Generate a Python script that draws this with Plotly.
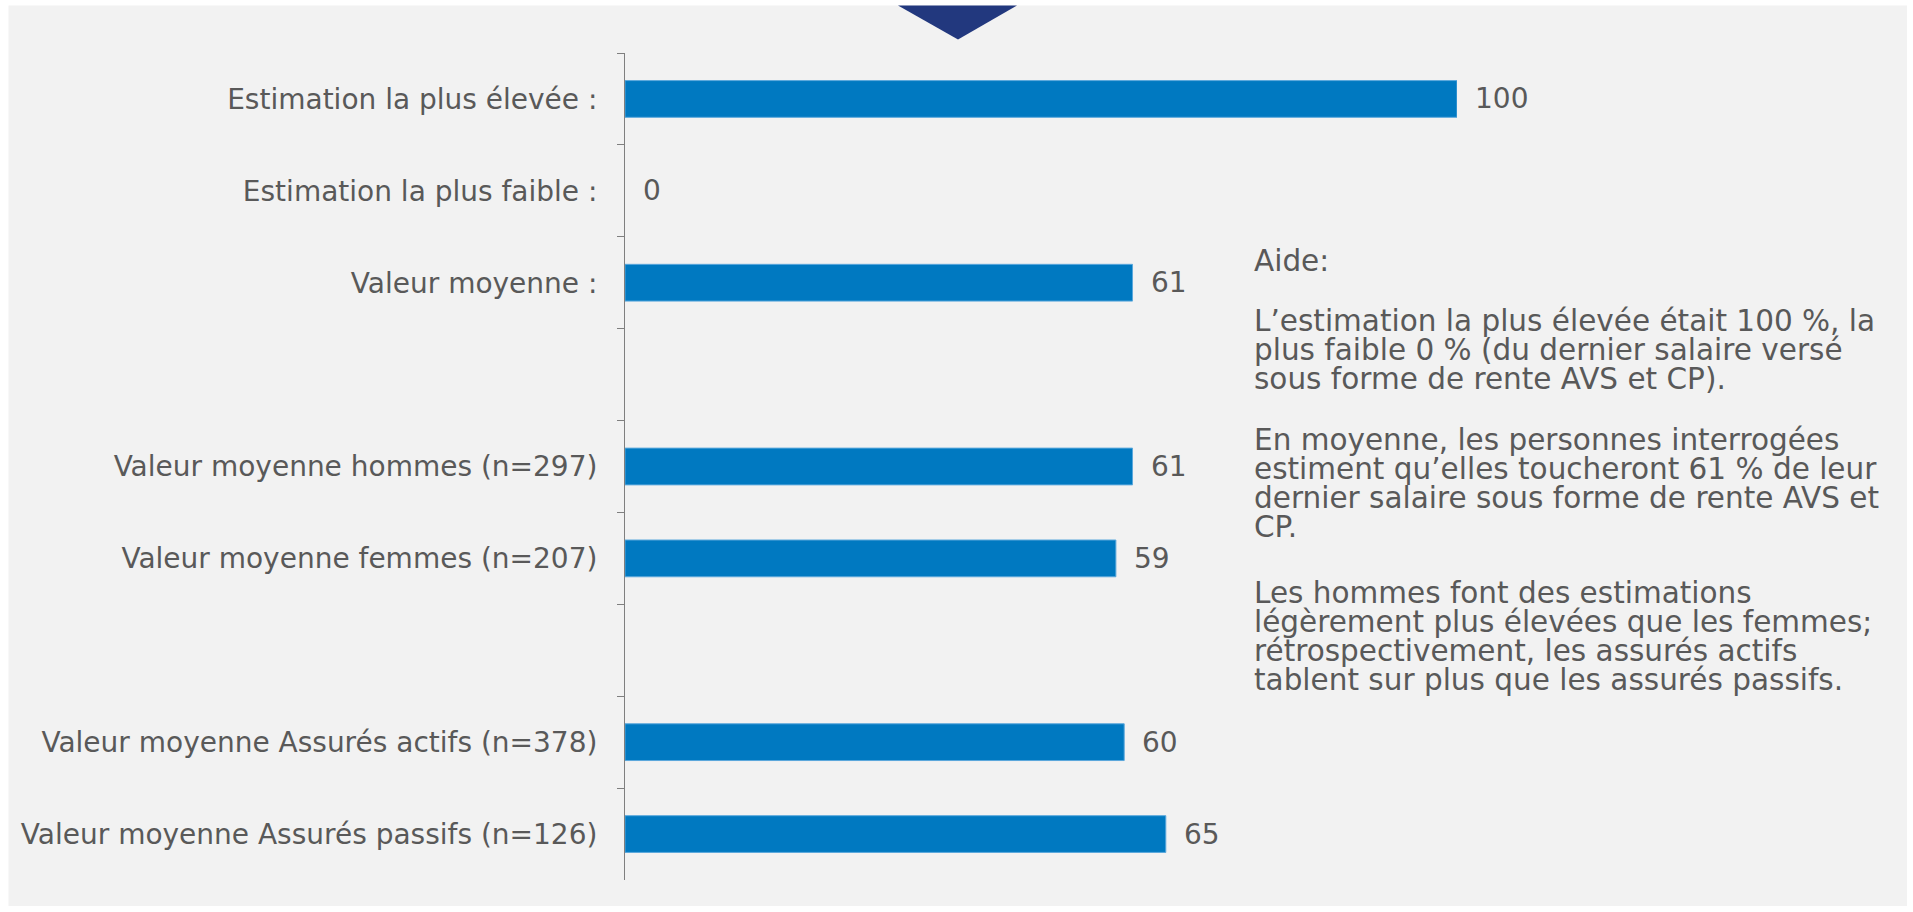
import plotly.graph_objects as go

# ---- data ----
categories = [
    "Estimation la plus élevée :",
    "Estimation la plus faible :",
    "Valeur moyenne :",
    " ",
    "Valeur moyenne hommes (n=297)",
    "Valeur moyenne femmes (n=207)",
    "  ",
    "Valeur moyenne Assurés actifs (n=378)",
    "Valeur moyenne Assurés passifs (n=126)",
]
values = [100, 0, 61, None, 61, 59, None, 60, 65]

aide_title = "Aide:"
aide_para1 = [
    "L’estimation la plus élevée était 100 %, la",
    "plus faible 0 % (du dernier salaire versé",
    "sous forme de rente AVS et CP).",
]
aide_para2 = [
    "En moyenne, les personnes interrogées",
    "estiment qu’elles toucheront 61 % de leur",
    "dernier salaire sous forme de rente AVS et",
    "CP.",
]
aide_para3 = [
    "Les hommes font des estimations",
    "légèrement plus élevées que les femmes;",
    "rétrospectivement, les assurés actifs",
    "tablent sur plus que les assurés passifs.",
]

# ---- layout geometry (pixels) ----
W_PX, H_PX = 1913, 912
L, R_EDGE = 625, 1457
T, B_EDGE = 52.5, 880
FONT = "Verdana, DejaVu Sans, sans-serif"
FS = 28
FS_TXT = 29.5
GREY = "#595959"
BLUE = "#0079C1"

def px_x(px):
    return (px - L) / (R_EDGE - L)

def px_y(py):
    return (B_EDGE - py) / (B_EDGE - T)

fig = go.Figure()
fig.add_trace(go.Bar(
    y=categories,
    x=values,
    orientation="h",
    marker=dict(color=BLUE,
                line=dict(color="#5BA8DC", width=[1 if v else 0 for v in values])),
    width=0.4,
    hoverinfo="x+y",
))

annotations = []
for c, v in zip(categories, values):
    if v is None:
        continue
    annotations.append(dict(
        x=v, y=c, xref="x", yref="y", text=str(v), showarrow=False,
        xanchor="left", yanchor="middle", xshift=16,
        font=dict(family=FONT, size=FS, color=GREY),
    ))

TEXT_X = 1252
lines = [(aide_title, 261)]
for para, first, step in ((aide_para1, 321, 28.6), (aide_para2, 440, 28.9), (aide_para3, 593, 28.8)):
    for i, ln in enumerate(para):
        lines.append((ln, first + i * step))
for txt, py in lines:
    annotations.append(dict(
        x=px_x(TEXT_X), y=px_y(py), xref="paper", yref="paper", text=txt,
        showarrow=False, xanchor="left", yanchor="middle", align="left",
        font=dict(family=FONT, size=FS_TXT, color=GREY),
    ))

shapes = [
    dict(type="rect", xref="paper", yref="paper", layer="below",
         x0=px_x(8.5), x1=px_x(1907), y0=px_y(906), y1=px_y(5),
         fillcolor="#F2F2F2", line=dict(width=0)),
    dict(type="path", xref="paper", yref="paper", layer="above",
         path=f"M {px_x(898)} {px_y(5)} L {px_x(1017)} {px_y(5)} L {px_x(958)} {px_y(39)} Z",
         fillcolor="#22387E", line=dict(width=0)),
]

fig.update_layout(
    width=W_PX, height=H_PX,
    margin=dict(l=L, r=W_PX - R_EDGE, t=T, b=H_PX - B_EDGE, pad=0),
    paper_bgcolor="white",
    plot_bgcolor="rgba(0,0,0,0)",
    showlegend=False,
    bargap=0.6,
    annotations=annotations,
    shapes=shapes,
    font=dict(family=FONT, size=FS, color=GREY),
)
fig.update_xaxes(range=[0, 100], visible=False, fixedrange=True)
fig.update_yaxes(
    categoryorder="array", categoryarray=categories, autorange="reversed",
    showline=True, linecolor="#7F7F7F", linewidth=1,
    ticks="outside", tickson="boundaries", ticklen=7, tickcolor="#7F7F7F",
    tickfont=dict(family=FONT, size=FS, color=GREY),
    showgrid=False, zeroline=False, ticklabelstandoff=21, fixedrange=True,
)

fig.write_html("out.html", config={"displayModeBar": False},
               post_script="document.body.style.margin='0px';")
